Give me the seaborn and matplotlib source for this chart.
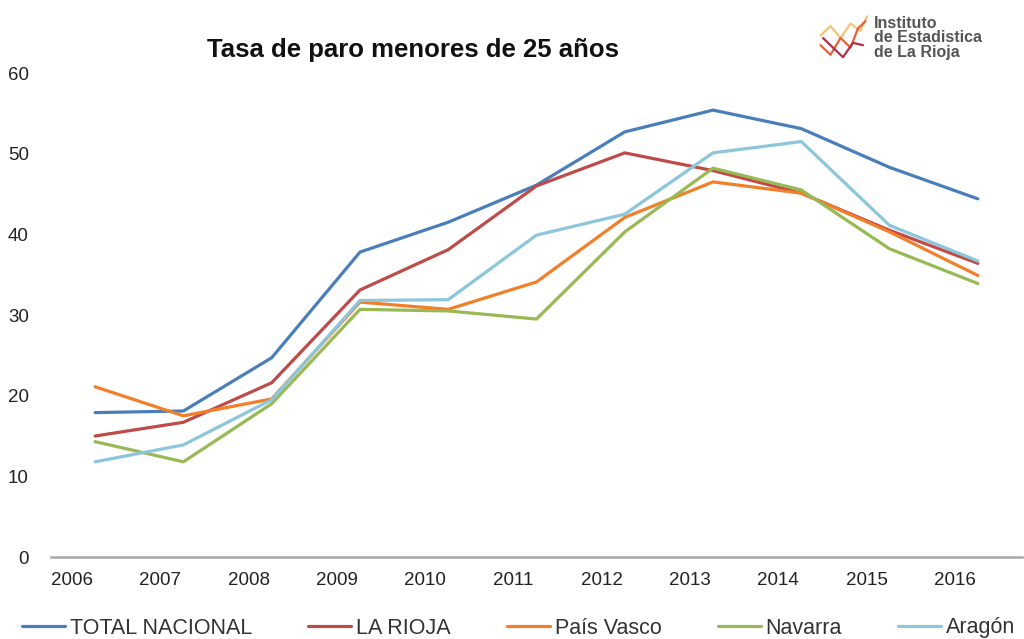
import matplotlib
matplotlib.use("Agg")
import matplotlib.pyplot as plt
import seaborn as sns
import pandas as pd

years = ["2006", "2007", "2008", "2009", "2010", "2011", "2012", "2013", "2014", "2015", "2016"]
total_nacional = [17.9, 18.1, 24.7, 37.8, 41.5, 46.1, 52.7, 55.4, 53.1, 48.3, 44.4]
la_rioja = [15.0, 16.7, 21.6, 33.1, 38.1, 46.0, 50.1, 47.9, 45.1, 40.5, 36.4]
pais_vasco = [21.1, 17.5, 19.6, 31.6, 30.7, 34.1, 42.1, 46.5, 45.1, 40.3, 34.9]
navarra = [14.3, 11.8, 19.0, 30.7, 30.5, 29.5, 40.3, 48.2, 45.5, 38.2, 33.9]
aragon = [11.8, 13.9, 19.5, 31.8, 31.9, 39.9, 42.5, 50.1, 51.5, 41.1, 36.7]

series_names = ["TOTAL NACIONAL", "LA RIOJA", "País Vasco", "Navarra", "Aragón"]
series_values = [total_nacional, la_rioja, pais_vasco, navarra, aragon]
colors = ["#4A7EBB", "#BE4B48", "#F27F2A", "#98B954", "#8CC6DB"]
y_ticks = [0, 10, 20, 30, 40, 50, 60]

rows = []
for name, vals in zip(series_names, series_values):
    for i, (yr, v) in enumerate(zip(years, vals)):
        rows.append({"pos": i, "year": yr, "serie": name, "tasa": v})
df = pd.DataFrame(rows)

sns.set_theme(style="white")
plt.rcParams["font.family"] = ["Liberation Sans", "DejaVu Sans"]

fig = plt.figure(figsize=(10.24, 6.39), dpi=100)
ax = fig.add_axes([51 / 1024, 82 / 639, (1022 - 51) / 1024, (557 - 73) / 639])

sns.lineplot(data=df, x="pos", y="tasa", hue="serie", hue_order=series_names,
             palette=colors, linewidth=2.3, ax=ax, legend=False, sort=False)

ax.set_xlim(-0.5, 10.5)
ax.set_ylim(0, 60)
ax.set_xlabel("")
ax.set_ylabel("")

# category labels sit slightly to the left of their points
label_offset = 0.26
ax.set_xticks([i - label_offset for i in range(len(years))])
ax.set_xticklabels(years)

ax.set_yticks(y_ticks)
ax.tick_params(axis="x", length=0, pad=11, labelsize=13.5, colors="#222222")
ax.tick_params(axis="y", length=0, pad=16, labelsize=13.5, colors="#222222")

for side in ["top", "right", "left"]:
    ax.spines[side].set_visible(False)
ax.spines["bottom"].set_color("#A8A8A8")
ax.spines["bottom"].set_linewidth(1.8)

fig.text(413 / 1024, 1 - 50 / 639, "Tasa de paro menores de 25 años",
         ha="center", va="center", fontsize=18.5, fontweight="bold", color="#111111")

# legend along the bottom
handles = [plt.Line2D([], [], color=c, linewidth=2.3) for c in colors]
leg = fig.legend(handles, series_names, loc="center left",
                 bbox_to_anchor=(22 / 1024, 1 - 628 / 639), ncol=5, frameon=False,
                 borderpad=0, borderaxespad=0,
                 handlelength=2.0, handletextpad=0.23, columnspacing=2.6,
                 prop={"size": 15.5})
for t in leg.get_texts():
    t.set_color("#333333")

# institute logo
logo = fig.add_axes([818 / 1024, 1 - 62 / 639, 50 / 1024, 48 / 639])
logo.set_xlim(0, 10)
logo.set_ylim(0, 10)
logo.axis("off")
logo.plot([0.5, 2.5, 4.5, 6.5, 8.5, 9.8], [5.5, 7.5, 5.0, 8.0, 6.5, 9.5], color="#F6C27A", lw=1.6)
logo.plot([0.5, 2.5, 4.5, 6.5, 8.0, 9.5], [3.5, 1.5, 5.0, 3.0, 7.0, 8.5], color="#E8603A", lw=1.6)
logo.plot([1.0, 3.0, 5.0, 7.0, 9.0], [5.0, 3.0, 1.0, 4.0, 3.5], color="#B0304A", lw=1.6)
fig.text(874 / 1024, 1 - 38 / 639, "Instituto\nde Estadistica\nde La Rioja",
         ha="left", va="center", fontsize=11.5, fontweight="bold", color="#555555",
         linespacing=0.95)

fig.savefig("out.png", dpi=100, facecolor="white")
